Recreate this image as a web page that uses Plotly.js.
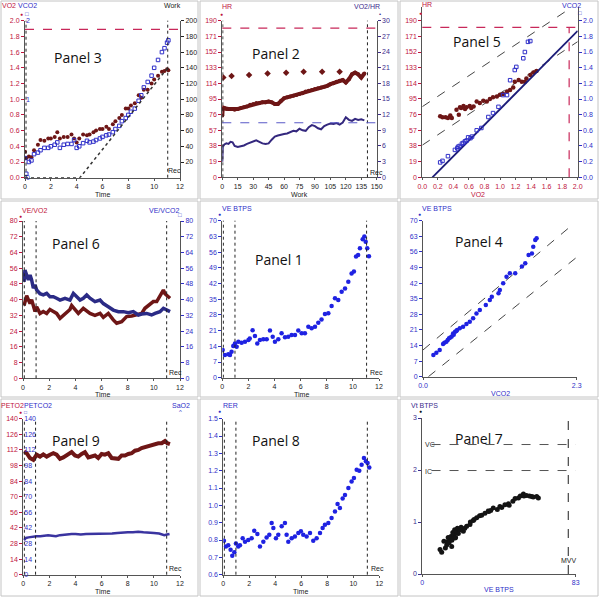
<!DOCTYPE html>
<html><head><meta charset="utf-8">
<script src="https://cdn.plot.ly/plotly-3.0.1.min.js"></script>
<style>html,body{margin:0;padding:0;background:#fff}#chart{width:600px;height:598px}</style>
</head><body><div id="chart"></div>
<script>
// ---------- DATA ----------
// Panel 3: VO2 / VCO2 / Work vs Time
const p3Time = [0,0.1,0.3,0.5,0.7,1.0,1.2,1.5,1.8,2.0,2.3,2.5,2.7,3.0,3.3,3.6,3.8,4.0,4.2,4.5,4.8,5.0,5.3,5.5,5.8,6.0,6.3,6.5,6.8,7.0,7.3,7.5,7.8,8.0,8.2,8.5,8.8,9.0,9.2,9.5,9.8,10.0,10.3,10.6,10.8,11.0,11.1];
const p3VO2 = [0.33,0.25,0.27,0.26,0.35,0.42,0.48,0.47,0.50,0.50,0.52,0.58,0.50,0.52,0.52,0.55,0.50,0.45,0.50,0.55,0.54,0.55,0.58,0.60,0.62,0.62,0.65,0.62,0.68,0.72,0.76,0.80,0.88,0.88,0.92,0.95,1.05,1.02,1.12,1.12,1.20,1.25,1.30,1.35,1.36,1.38,1.37];
const p3VCO2 = [0.25,0.05,0.20,0.22,0.30,0.32,0.35,0.38,0.38,0.40,0.42,0.45,0.38,0.42,0.43,0.43,0.48,0.38,0.40,0.44,0.47,0.45,0.46,0.48,0.50,0.52,0.54,0.55,0.58,0.62,0.66,0.72,0.76,0.80,0.84,0.88,0.98,1.05,1.15,1.22,1.30,1.40,1.50,1.60,1.65,1.72,1.75];
const p3WorkTime = [0,4.25,11.1];
const p3Work = [0,0,141];
const p3VO2Pred = 1.89;
const p3Events = [0.08,11.05];
const p3TimeTicks = [0,2,4,6,8,10,12];
const p3VO2Ticks = [0,0.2,0.4,0.6,0.8,1.0,1.2,1.4,1.6,1.8,2.0];
const p3VCO2Ticks = [0,1,2];
const p3WorkTicks = [20,40,60,80,100,120,140,160,180,200];

// Panel 2: HR and VO2/HR vs Work
const p2Work = [0,0.5,1,2,4,6,8,10,12,15,18,21,24,27,30,33,36,39,42,45,48,51,54,57,60,63,66,69,72,75,78,81,84,87,90,93,96,99,102,105,108,111,114,117,120,123,126,129,132,135,138];
const p2HR = [75,85,83,84,83,83,83,83,82,83,84,85,86,88,89,90,90,91,91,92,91,89,89,93,96,97,98,99,100,101,102,104,105,106,107,108,109,110,111,113,114,116,117,118,115,119,125,127,125,121,126];
const p2VO2HR = [3.0,6.2,6.0,6.3,6.5,6.4,6.8,6.7,6.0,5.8,5.9,6.1,6.4,6.6,6.8,7.1,6.8,6.5,6.4,6.5,7.2,7.8,8.0,8.2,8.3,8.4,8.6,8.9,8.8,9.3,9.0,8.9,9.6,10.0,9.8,9.4,9.2,9.8,10.1,10.3,10.2,10.4,10.1,10.5,11.5,11.0,10.8,11.2,11.0,11.1,10.9];
const p2PredWork = [1,9,26,44,62,79,97,114];
const p2PredHR = [121,123,124,126,127,128,128,128];
const p2HRmax = 181;
const p2VO2HRPred = 10.45;
const p2Events = [0.5,141];
const p2WorkTicks = [0,15,30,45,60,75,90,105,120,135,150];
const hrTicks = [0,19,38,57,76,95,114,133,152,171,190];
const p2VO2HRTicks = [0,3,6,9,12,15,18,21,24,27,30];

// Panel 5: HR and VCO2 vs VO2
const p5HrVO2 = [0.23,0.26,0.30,0.33,0.36,0.38,0.44,0.47,0.485,0.50,0.53,0.55,0.57,0.61,0.63,0.66,0.70,0.74,0.785,0.83,0.87,0.91,0.96,1.0,1.04,1.09,1.13,1.17,1.19,1.24,1.28,1.32,1.34,1.39,1.43,1.47];
const p5HR = [74,73,73,72,75,72,82,76,85,84,86.5,83,85,86.5,84,86,92,90,93,92,95,97,98,100,101,104,106,109,116,118,116,116,120,124,127,129];
const p5CO2VO2 = [0.23,0.26,0.33,0.42,0.45,0.46,0.48,0.51,0.53,0.55,0.57,0.59,0.62,0.64,0.70,0.76,0.85,0.91,0.98,1.04,1.09,1.13,1.19,1.21,1.30,1.32,1.36,1.39];
const p5VCO2 = [0.19,0.21,0.27,0.35,0.37,0.39,0.40,0.43,0.44,0.46,0.47,0.51,0.50,0.52,0.60,0.63,0.77,0.82,0.90,1.05,1.05,1.24,1.37,1.41,1.52,1.60,1.73,1.74];
const p5IdVO2 = [0.13,2.0];
const p5IdVCO2 = [0,1.87];
const p5UpVO2 = [0,2.0];
const p5UpHR = [85.7,211];
const p5LoVO2 = [0,2.0];
const p5LoHR = [39,164.6];
const p5HRmax = 182;
const p5VO2max = 1.89;
const p5VO2Ticks = [0,0.2,0.4,0.6,0.8,1.0,1.2,1.4,1.6,1.8,2.0];
const p5VCO2Ticks = [0,0.2,0.4,0.6,0.8,1.0,1.2,1.4,1.6,1.8,2.0];

// Panel 6: VE/VO2 and VE/VCO2 vs Time
const p6RedT = [0.08,0.28,0.54,0.66,0.92,1.04,1.3,1.55,1.81,2.06,2.32,2.57,2.83,3.08,3.34,3.59,3.72,3.97,4.23,4.61,4.87,5.12,5.5,5.89,6.14,6.52,6.9,7.16,7.54,7.92,8.31,8.69,9.07,9.32,9.71,9.96,10.22,10.47,10.73,10.85,11.11,11.24];
const p6Red = [37,42,38,40,34,36.4,33,34,33,35,34,33,30.5,32,33,35,37,35,33,35.6,34,33,32,33,31,33,29.7,28,28.8,31.4,31.7,32.2,33,35.6,38,39,39,41.5,44.9,43,41.5,40.7];
const p6BlueT = [0.08,0.15,0.28,0.41,0.54,0.66,0.79,0.92,1.04,1.3,1.55,1.81,2.06,2.32,2.57,2.83,3.21,3.59,3.85,4.1,4.36,4.61,4.87,5.12,5.5,5.89,6.14,6.52,6.9,7.29,7.67,8.05,8.43,8.82,9.07,9.45,9.83,10.09,10.47,10.73,10.98,11.24];
const p6Blue = [49,55,52.5,50,52.5,50,45.8,47.5,45,43,42.4,43.2,41.5,41.5,40.7,39.8,40.7,39.8,43.2,41.5,39.8,40.7,42.4,40.7,39,39.8,38,36.4,34.7,33.9,33.9,33.4,33.9,32.2,32.7,33,32.2,33,33.9,35.6,34.7,33.9];
const p6Events = [0.1,1.0,10.98];
const p6Ticks = [0,8,16,24,32,40,48,56,64,72,80];

// Panel 1: VE vs Time
const p1T = [0.03,0.2,0.46,0.59,0.71,0.84,0.97,1.1,1.23,1.48,1.74,2.0,2.1,2.32,2.5,2.68,2.88,3.14,3.4,3.65,3.86,4.03,4.29,4.54,4.8,5.05,5.31,5.57,5.82,6.08,6.33,6.59,6.84,7.1,7.35,7.6,7.86,8.12,8.37,8.63,8.88,9.14,9.4,9.65,9.9,10.08,10.24,10.4,10.54,10.75,10.88,10.98,11.1,11.23];
const p1VE = [12.3,10.1,10.5,10.1,11.6,14.1,15.3,13.8,16,15.6,16,16.8,17.5,21.2,18.6,15.3,16.8,17.1,17.1,21,18.3,16,17.1,19.8,18,18.3,19,19,21,19.8,19.8,22.7,22,22.7,24.5,26,28.4,28.7,32,35.4,34.6,38.3,39.8,42.8,46.5,47.3,54,54.7,57.7,61.7,62.9,60.6,57.7,54.2];
const p1Events = [0.08,0.97,11.05];
const veTicks = [0,7,14,21,28,35,42,49,56,63,70];
const timeTicks = [0,2,4,6,8,10,12];

// Panel 4: VE vs VCO2
const p4VCO2 = [0.155,0.2,0.25,0.3,0.32,0.35,0.37,0.39,0.41,0.43,0.45,0.46,0.48,0.5,0.51,0.55,0.6,0.65,0.7,0.75,0.8,0.85,0.94,1.0,1.03,1.13,1.15,1.2,1.25,1.3,1.38,1.48,1.53,1.58,1.63,1.65,1.68,1.7];
const p4VE = [9.7,10.8,12,14.7,15.2,15.7,16.5,17.2,17.6,18,19.4,18.8,20.2,20.5,21,21.7,22.4,23.6,24.7,26.2,28.4,29.9,32.2,34.4,35.9,37.4,38.9,41.9,44.9,46.4,46.4,49.4,50.9,54.6,55.3,58.3,61.3,62.1];
const p4UpX = [0,2.25];
const p4UpY = [12,68.5];
const p4LoX = [0.08,2.3];
const p4LoY = [0,53.6];
const p4XTicks = [0,2.3];

// Panel 9: PETO2, PETCO2 vs Time
const p9RedT = [0.05,0.26,0.51,0.77,1.02,1.28,1.53,1.79,2.04,2.3,2.55,2.81,3.06,3.32,3.7,3.96,4.21,4.47,4.72,4.98,5.23,5.49,5.74,6.0,6.25,6.51,6.77,7.02,7.28,7.53,7.79,8.04,8.3,8.55,8.81,9.06,9.45,9.83,10.08,10.34,10.6,10.85,11.03,11.23];
const p9PETO2 = [110.7,109,104.7,103,107.7,106,108,106,107.7,109,107.7,104,105.3,107,110,107,106,108.3,110,105.3,106,107,104.7,108.3,107.7,109,104.7,104,104,107,107,108.3,109,111.3,112,113.7,115,116.6,117.2,118,118,120,118,117.2];
const p9BlueT = [0.05,0.2,0.4,0.6,0.8,1.0,1.3,1.6,1.9,2.2,2.5,2.8,3.1,3.4,3.7,4.0,4.4,4.8,5.2,5.6,6.0,6.4,6.8,7.2,7.6,8.0,8.4,8.8,9.2,9.6,10.0,10.4,10.8,11.0,11.2];
const p9PETCO2 = [31,33,33.5,34,34.5,34.5,34.5,35,35.5,35,34.5,35.5,36,36,36.5,36.5,36,36.5,36.5,36.5,37,36.5,37,37.5,38,38,38,38.5,38,38,37.5,37,35.5,36,36.5];
const p9Events = [0.08,0.94,10.98];
const p9Ticks = [0,14,28,42,56,70,84,98,112,126,140];
const p9SaTicks = [0,10,20,30,40,50,60,70,80,90,100];

// Panel 8: RER vs Time
const p8T = [0.05,0.2,0.38,0.56,0.69,0.85,0.97,1.15,1.28,1.49,1.67,1.92,2.18,2.38,2.62,2.82,3.08,3.33,3.54,3.72,3.85,4.05,4.23,4.49,4.74,4.87,5.0,5.26,5.51,5.77,5.97,6.15,6.41,6.67,6.92,7.18,7.44,7.64,7.82,8.08,8.33,8.59,8.79,8.97,9.18,9.36,9.62,9.87,10.05,10.26,10.46,10.64,10.82,10.97,11.1,11.23];
const p8RER = [0.796,0.763,0.77,0.744,0.71,0.73,0.78,0.763,0.77,0.81,0.79,0.80,0.81,0.854,0.835,0.763,0.79,0.815,0.83,0.898,0.869,0.81,0.83,0.879,0.898,0.83,0.79,0.81,0.82,0.84,0.85,0.83,0.82,0.84,0.796,0.81,0.84,0.869,0.888,0.898,0.927,0.965,1.008,0.985,1.04,1.06,1.10,1.138,1.158,1.206,1.2,1.235,1.273,1.254,1.244,1.219];
const p8Events = [0.08,0.97,11.08];
const rerTicks = [0.6,0.7,0.8,0.9,1.0,1.1,1.2,1.3,1.4,1.5];

// Panel 7: Vt vs VE
const p7VE = [9.6,10.5,11.7,12.5,13.2,13.5,14,14.5,15,15.5,15.9,16,16.5,16.8,17,17.5,17.7,18,18.5,18.9,19,19.5,20.4,21,22.2,23,24,25.8,26,27.6,28,29.4,31,32.1,33.9,35.7,36,37,38.4,40.6,42,43,44.7,46.6,47,49,50.2,52,53,54.7,55,56.4,58,59.2,60,61.9,62.8];
const p7Vt = [0.47,0.42,0.63,0.5,0.56,0.62,0.7,0.6,0.66,0.72,0.53,0.65,0.8,0.76,0.75,0.85,0.69,0.7,0.82,0.79,0.88,0.78,0.85,0.9,0.82,0.88,0.92,0.95,1.0,1.03,1.05,1.08,1.12,1.13,1.17,1.21,1.2,1.22,1.27,1.24,1.30,1.28,1.33,1.35,1.32,1.4,1.45,1.46,1.5,1.54,1.5,1.51,1.5,1.49,1.48,1.49,1.46];
const p7VC = 2.49;
const p7IC = 1.99;
const p7MVV = 79;
const p7LineStart = 5;
const p7YTicks = [0,1,2,3];
const p7XTicks = [0,83];

// ---------- STYLE ----------
const W = 600, H = 598;
const FONT = 'Liberation Sans, Arial, sans-serif';
const RED = '#c0143c', BLUE = '#2f2fc8', DRED = '#6e1616', NAVY = '#2b2b86', BBLUE = '#1f22e2', PURP = '#3c2c8c', LINE = '#555';
const dx = (a, b) => [a / W, b / W];
const dy = (top, bottom) => [1 - bottom / H, 1 - top / H];

function xa(dom, range, vals, color, anchor, fmt) {
  return {domain: dom, range: range, tickvals: vals, tickformat: fmt || '', tickfont: {family: FONT, size: 7, color: color},
    showline: true, linecolor: LINE, linewidth: 1, ticks: 'outside', ticklen: 2, tickcolor: LINE,
    showgrid: false, zeroline: false, anchor: anchor, fixedrange: true};
}
function ya(dom, range, vals, color, anchor, opts) {
  return Object.assign({domain: dom, range: range, tickvals: vals, tickfont: {family: FONT, size: 7, color: color},
    showline: true, linecolor: LINE, linewidth: 1, ticks: 'outside', ticklen: 3, tickcolor: color,
    showgrid: false, zeroline: false, anchor: anchor, fixedrange: true}, opts || {});
}
const inner = (over, pos) => ({overlaying: over, side: 'right', anchor: 'free', position: pos / W, ticks: '', showline: false});

const layout = {
  width: W, height: H, margin: {l: 0, r: 0, t: 0, b: 0}, showlegend: false,
  paper_bgcolor: '#fff', plot_bgcolor: 'rgba(0,0,0,0)', font: {family: FONT, size: 7},
  // Panel 3
  xaxis: xa(dx(25, 180), [0, 12], p3TimeTicks, '#222', 'y'),
  yaxis: ya(dy(20.7, 177.7), [0, 2.0], p3VO2Ticks, RED, 'x', {tickformat: '.1f'}),
  yaxis2: ya(dy(20.7, 177.7), [0, 2.0], p3VCO2Ticks, BLUE, 'x', inner('y', 25)),
  yaxis3: ya(dy(20.7, 177.7), [0, 200], p3WorkTicks, '#222', 'x', {overlaying: 'y', side: 'right'}),
  // Panel 2
  xaxis2: xa(dx(222.3, 376.7), [0, 150], p2WorkTicks, '#222', 'y4'),
  yaxis4: ya(dy(20.7, 177.3), [0, 190], hrTicks, RED, 'x2'),
  yaxis5: ya(dy(20.7, 177.3), [0, 30], p2VO2HRTicks, PURP, 'x2', {overlaying: 'y4', side: 'right'}),
  // Panel 5
  xaxis3: xa(dx(422.3, 577.7), [0, 2.0], p5VO2Ticks, RED, 'y6', '.1f'),
  yaxis6: ya(dy(7, 177.3), [0, 206.6], hrTicks, RED, 'x3'),
  yaxis7: ya(dy(7, 177.3), [0, 2.175], p5VCO2Ticks, BLUE, 'x3', {overlaying: 'y6', side: 'right', tickformat: '.1f'}),
  // Panel 6
  xaxis4: xa(dx(23, 180), [0, 12], timeTicks, '#222', 'y8'),
  yaxis8: ya(dy(221, 378.3), [0, 80], p6Ticks, RED, 'x4'),
  yaxis9: ya(dy(221, 378.3), [0, 80], p6Ticks, BLUE, 'x4', {overlaying: 'y8', side: 'right'}),
  // Panel 1
  xaxis5: xa(dx(222.3, 379), [0, 12], timeTicks, '#222', 'y10'),
  yaxis10: ya(dy(220.7, 377.7), [0, 70], veTicks, BLUE, 'x5'),
  // Panel 4
  xaxis6: xa(dx(423, 576.7), [0, 2.3], p4XTicks, BLUE, 'y11', '.1f'),
  yaxis11: ya(dy(220.7, 376.7), [0, 70], veTicks, BLUE, 'x6'),
  // Panel 9
  xaxis7: xa(dx(23.3, 180), [0, 12], timeTicks, '#222', 'y12'),
  yaxis12: ya(dy(418.7, 574.7), [0, 140], p9Ticks, RED, 'x7'),
  yaxis13: ya(dy(418.7, 574.7), [0, 140], p9Ticks, BLUE, 'x7', inner('y12', 23.3)),
  yaxis14: ya(dy(418.7, 574.7), [0, 100], p9SaTicks, BLUE, 'x7', {overlaying: 'y12', side: 'right'}),
  // Panel 8
  xaxis8: xa(dx(223.3, 379.3), [0, 12], timeTicks, '#222', 'y15'),
  yaxis15: ya(dy(418.7, 574.7), [0.6, 1.5], rerTicks, BLUE, 'x8', {tickformat: '.1f'}),
  // Panel 7
  xaxis9: xa(dx(422.3, 575.7), [0, 83], p7XTicks, BLUE, 'y16'),
  yaxis16: ya(dy(418, 574), [0, 3], p7YTicks, PURP, 'x9'),
  shapes: [], annotations: []
};

// panel frames
const frames = [[1,1,198,199],[200,1,398,199],[400,1,598,199],[1,201,198,397],[200,201,398,397],[400,201,598,397],[1,399,198,596],[200,399,398,596],[400,399,598,596]];
frames.forEach(f => layout.shapes.push({type: 'rect', xref: 'paper', yref: 'paper', x0: f[0]/W, x1: f[2]/W, y0: 1-f[3]/H, y1: 1-f[1]/H, line: {color: '#c4c4c4', width: 1}, layer: 'below'}));

function vlines(events, xr, yr) {
  events.forEach(v => layout.shapes.push({type: 'line', xref: xr, yref: yr + ' domain', x0: v, x1: v, y0: 0, y1: 1, line: {color: '#222', width: 1, dash: 'dot'}}));
}
vlines(p3Events, 'x', 'y');
vlines(p2Events, 'x2', 'y4');
vlines(p6Events, 'x4', 'y8');
vlines(p1Events, 'x5', 'y10');
vlines(p9Events, 'x7', 'y12');
vlines(p8Events, 'x8', 'y15');
function hline(val, xr, yr, color, dash, w) {
  layout.shapes.push({type: 'line', xref: xr + ' domain', yref: yr, x0: 0, x1: 1, y0: val, y1: val, line: {color: color, width: w || 1.2, dash: dash}});
}
hline(p3VO2Pred, 'x', 'y', '#c8285a', 'dash');
hline(p2HRmax, 'x2', 'y4', '#c8285a', 'dash');
hline(p2VO2HRPred, 'x2', 'y5', '#5a5ac8', 'dash');
hline(p5HRmax, 'x3', 'y6', '#c8285a', 'dash');
layout.shapes.push({type: 'line', xref: 'x3', yref: 'y6', x0: p5VO2max, x1: p5VO2max, y0: 0, y1: p5HRmax, line: {color: '#c8285a', width: 1.2, dash: 'dash'}});
layout.shapes.push({type: 'line', xref: 'x9', yref: 'y16', x0: p7LineStart, x1: 83, y0: p7VC, y1: p7VC, line: {color: '#555', width: 1, dash: 'dash'}});
layout.shapes.push({type: 'line', xref: 'x9', yref: 'y16', x0: p7LineStart, x1: 83, y0: p7IC, y1: p7IC, line: {color: '#555', width: 1, dash: 'dash'}});
layout.shapes.push({type: 'line', xref: 'x9', yref: 'y16 domain', x0: p7MVV, x1: p7MVV, y0: 0, y1: 1.03, line: {color: '#444', width: 1.2, dash: 'dash'}});

function A(px, py, text, color, size, xa_, fam) {
  layout.annotations.push({xref: 'paper', yref: 'paper', x: px / W, y: 1 - py / H, text: text, showarrow: false,
    font: {family: fam || FONT, size: size || 7, color: color || '#222'}, xanchor: xa_ || 'left', yanchor: 'middle', borderpad: 0});
}
const PF = 'Open Sans, sans-serif';
// Panel 3 labels
A(1, 6, 'VO2', RED); A(17, 6, 'VCO2', BLUE); A(21, 14, '●', RED, 5, 'center'); A(27, 14, '□', BLUE, 6, 'center');
A(163, 6, 'Work', '#222'); A(102, 194, 'Time', '#222', 7, 'center'); A(167, 171, 'Rec', '#222');
A(78, 57, 'Panel 3', '#111', 14, 'center', PF);
// Panel 2
A(221, 7, 'HR', RED); A(221, 14, '●', RED, 5, 'center'); A(353, 7, 'VO2/HR', PURP); A(380, 14, '•', PURP, 6, 'center');
A(299, 194, 'Work', '#222', 7, 'center'); A(369, 172, 'Rec', '#222');
A(276, 54, 'Panel 2', '#111', 14, 'center', PF);
// Panel 5
A(421, 5, 'HR', RED); A(420, 13, '●', RED, 5, 'center'); A(561, 6, 'VCO2', BLUE); A(580, 13, '□', BLUE, 6, 'center');
A(478, 194, 'VO2', RED, 7, 'center');
A(477, 42, 'Panel 5', '#111', 14, 'center', PF);
// Panel 6
A(21, 210, 'VE/VO2', RED); A(20, 216, '●', RED, 5, 'center'); A(148, 210, 'VE/VCO2', BLUE); A(180, 215, '□', BLUE, 6, 'center');
A(102, 394, 'Time', '#222', 7, 'center'); A(168, 372, 'Rec', '#222');
A(76, 243, 'Panel 6', '#111', 14, 'center', PF);
// Panel 1
A(221, 208, 'VE BTPS', BLUE); A(219, 214, '●', BLUE, 5, 'center');
A(301, 394, 'Time', '#222', 7, 'center'); A(369, 372, 'Rec', '#222');
A(279, 259, 'Panel 1', '#111', 14, 'center', PF);
// Panel 4
A(421, 208, 'VE BTPS', BLUE); A(419, 214, '●', BLUE, 5, 'center');
A(500, 393, 'VCO2', BLUE, 7, 'center');
A(479, 242, 'Panel 4', '#111', 14, 'center', PF);
// Panel 9
A(0, 405, 'PETO2', RED); A(23, 405, 'PETCO2', BLUE); A(20, 412, '●', RED, 5, 'center'); A(25, 412, '□', BLUE, 5, 'center');
A(171, 405, 'SaO2', BLUE); A(180, 412, '^', BLUE, 6, 'center');
A(102, 591, 'Time', '#222', 7, 'center'); A(168, 568, 'Rec', '#222');
A(76, 440, 'Panel 9', '#111', 14, 'center', PF);
// Panel 8
A(222, 405, 'RER', BLUE); A(220, 411, '●', BLUE, 5, 'center');
A(300, 591, 'Time', '#222', 7, 'center'); A(370, 568, 'Rec', '#222');
A(276, 440, 'Panel 8', '#111', 14, 'center', PF);
// Panel 7
A(410, 405, 'Vt BTPS', PURP); A(420, 411, '●', '#111', 5, 'center');
A(499, 589, 'VE BTPS', BLUE, 7, 'center');
A(424, 445, 'VC', '#333'); A(424, 471, 'IC', '#333'); A(560, 560, 'MVV', '#222');
A(479, 438, 'Panel 7', '#111', 14, 'center', PF);

// ---------- TRACES ----------
const traces = [
  // Panel 3
  {x: p3WorkTime, y: p3Work, xaxis: 'x', yaxis: 'y3', mode: 'lines', line: {color: '#333', width: 1.5, dash: 'dot'}},
  {x: p3Time, y: p3VCO2, xaxis: 'x', yaxis: 'y2', mode: 'markers', marker: {symbol: 'square-open', size: 3.5, color: BLUE, line: {width: 1, color: BLUE}}},
  {x: p3Time, y: p3VO2, xaxis: 'x', yaxis: 'y', mode: 'markers', marker: {size: 4, color: DRED}},
  // Panel 2
  {x: p2Work, y: p2HR, xaxis: 'x2', yaxis: 'y4', mode: 'lines+markers', line: {color: DRED, width: 4}, marker: {size: 4, color: DRED}},
  {x: p2PredWork, y: p2PredHR, xaxis: 'x2', yaxis: 'y4', mode: 'markers', marker: {symbol: 'diamond', size: 5, color: DRED}},
  {x: p2Work, y: p2VO2HR, xaxis: 'x2', yaxis: 'y5', mode: 'lines', line: {color: '#34287e', width: 2}},
  // Panel 5
  {x: p5UpVO2, y: p5UpHR, xaxis: 'x3', yaxis: 'y6', mode: 'lines', line: {color: '#444', width: 1, dash: 'dash'}},
  {x: p5LoVO2, y: p5LoHR, xaxis: 'x3', yaxis: 'y6', mode: 'lines', line: {color: '#444', width: 1, dash: 'dash'}},
  {x: p5IdVO2, y: p5IdVCO2, xaxis: 'x3', yaxis: 'y7', mode: 'lines', line: {color: '#1c1c78', width: 1.8}},
  {x: p5CO2VO2, y: p5VCO2, xaxis: 'x3', yaxis: 'y7', mode: 'markers', marker: {symbol: 'square-open', size: 3.5, color: BLUE, line: {width: 1, color: BLUE}}},
  {x: p5HrVO2, y: p5HR, xaxis: 'x3', yaxis: 'y6', mode: 'markers', marker: {size: 4.5, color: DRED}},
  // Panel 6
  {x: p6BlueT, y: p6Blue, xaxis: 'x4', yaxis: 'y9', mode: 'lines', line: {color: NAVY, width: 3.5}},
  {x: p6RedT, y: p6Red, xaxis: 'x4', yaxis: 'y8', mode: 'lines', line: {color: DRED, width: 3.5}},
  // Panel 1
  {x: p1T, y: p1VE, xaxis: 'x5', yaxis: 'y10', mode: 'markers', marker: {size: 4.5, color: BBLUE}},
  // Panel 4
  {x: p4UpX, y: p4UpY, xaxis: 'x6', yaxis: 'y11', mode: 'lines', line: {color: '#444', width: 1, dash: 'dash'}},
  {x: p4LoX, y: p4LoY, xaxis: 'x6', yaxis: 'y11', mode: 'lines', line: {color: '#444', width: 1, dash: 'dash'}},
  {x: p4VCO2, y: p4VE, xaxis: 'x6', yaxis: 'y11', mode: 'markers', marker: {size: 4.5, color: BBLUE}},
  // Panel 9
  {x: p9RedT, y: p9PETO2, xaxis: 'x7', yaxis: 'y12', mode: 'lines', line: {color: DRED, width: 4}},
  {x: p9BlueT, y: p9PETCO2, xaxis: 'x7', yaxis: 'y13', mode: 'lines', line: {color: '#3a34a0', width: 2.5}},
  // Panel 8
  {x: p8T, y: p8RER, xaxis: 'x8', yaxis: 'y15', mode: 'markers', marker: {size: 4.5, color: BBLUE}},
  // Panel 7
  {x: p7VE, y: p7Vt, xaxis: 'x9', yaxis: 'y16', mode: 'markers', marker: {size: 5, color: '#141414'}}
];

Plotly.newPlot('chart', traces, layout, {displayModeBar: false, staticPlot: true});
</script></body></html>
